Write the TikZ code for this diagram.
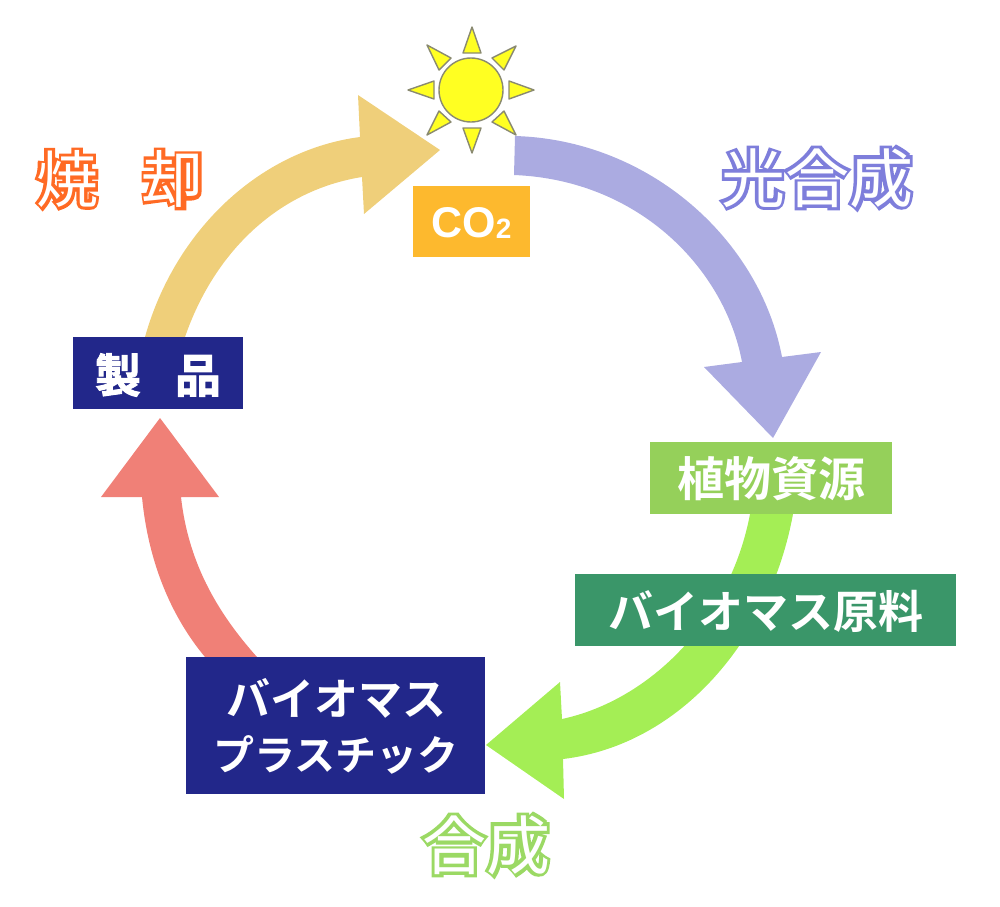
\documentclass[tikz,border=0pt]{standalone}
\usepackage{fontspec}
\setmainfont{Liberation Sans}
\newfontfamily\jpbold{Noto Sans CJK JP Bold}
\newfontfamily\jpheavy[FakeBold=2]{Noto Sans CJK JP Bold}
\newfontfamily\jpfat[FakeBold=7]{Noto Sans CJK JP Bold}
\newfontfamily\jpin{Noto Sans CJK JP}
\definecolor{arrP}{HTML}{ABABE1}
\definecolor{arrO}{HTML}{EFCF7A}
\definecolor{arrG}{HTML}{A4EE55}
\definecolor{arrR}{HTML}{F08077}
\definecolor{navy}{HTML}{22278A}
\definecolor{boxO}{HTML}{FDB92E}
\definecolor{boxG}{HTML}{95D05A}
\definecolor{boxT}{HTML}{3A9669}
\definecolor{txtO}{HTML}{FF6A24}
\definecolor{txtP}{HTML}{7E7EDB}
\definecolor{txtG}{HTML}{9BD964}
\definecolor{sunS}{HTML}{8A8A70}
\definecolor{sunF}{HTML}{FFFF22}
\tikzset{
  box/.style={inner sep=0pt,text=white,align=center,font=\jpbold\fontsize{44}{56}\selectfont},
  ray/.style={fill=sunF,draw=sunS,line width=1.4pt,line join=round},
  band/.style={draw=none},
  lblfat/.style={inner sep=0pt,font=\jpfat\fontsize{#1}{#1}\selectfont},
  lblin/.style={inner sep=0pt,text=white,font=\jpin\fontsize{#1}{#1}\selectfont},
}
\begin{document}
\begin{tikzpicture}[x=1pt,y=-1pt]
\useasboundingbox (0,0) rectangle (1000,906);
% arrows
\fill[arrP,band] (515,136) .. controls (650,140) and (760,240) .. (782,357) -- (821,352) -- (773,438) -- (704,367) -- (742,362) .. controls (725,270) and (640,180) .. (514,175) -- cycle;
\fill[arrO,band] (145,337) .. controls (175,230) and (260,150) .. (360,137) -- (358,95) -- (440,150) -- (364,214) -- (362,177) .. controls (280,190) and (215,250) .. (185,337) -- cycle;
\fill[arrG,band] (562,719) .. controls (650,700) and (730,620) .. (750,514) -- (793,514) .. controls (770,640) and (680,745) .. (563,759) -- (564,799) -- (486,745) -- (560,682) -- cycle;
\fill[arrR,band] (142,497) .. controls (148,560) and (170,615) .. (205,657) -- (257,657) .. controls (215,610) and (188,560) .. (181,497) -- (219,497) -- (160,418) -- (101,497) -- cycle;
% sun
\draw[ray] (471,90) circle (32);
\draw[ray] (472,27) -- (463,53) -- (481,53) -- cycle;
\draw[ray] (472,153) -- (463,128) -- (481,128) -- cycle;
\draw[ray] (408,90) -- (434,81) -- (434,99) -- cycle;
\draw[ray] (534,90) -- (509,81) -- (509,99) -- cycle;
\draw[ray] (516,46) -- (492,58) -- (504,70) -- cycle;
\draw[ray] (427,45) -- (451,58) -- (439,70) -- cycle;
\draw[ray] (516,135) -- (492,122) -- (504,111) -- cycle;
\draw[ray] (427,135) -- (451,122) -- (439,111) -- cycle;
% boxes
\fill[boxO] (413,186) rectangle (530,257);
\node[inner sep=0pt,text=white,font=\bfseries\fontsize{43}{43}\selectfont] (co2) at (471.5,223) {CO\raisebox{-1pt}{\fontsize{28}{28}\selectfont 2}};
\fill[navy] (73,337) rectangle (243,409);
\node[box,font=\jpheavy\fontsize{46}{56}\selectfont] (prod) at (158,375) {製\hspace{34pt}品};
\fill[boxG] (650,442) rectangle (892,514);
\node[box,font=\jpbold\fontsize{47}{56}\selectfont] (plant) at (771,479) {植物資源};
\fill[boxT] (575,574) rectangle (956,646);
\node[box,font=\jpbold\fontsize{45}{56}\selectfont] (raw) at (766,611) {バイオマス原料};
\fill[navy] (186,657) rectangle (485,794);
\node[box] (bp1) at (336,698) {バイオマス};
\node[box,font=\jpbold\fontsize{41}{56}\selectfont] (bp2) at (336,755) {プラスチック};
% hollow labels
\node[lblfat=64,text=txtP] (kg) at (817,178) {光合成};
\node[lblin=64] at (kg) {光合成};
\node[lblfat=64,text=txtG] (gs) at (486,845) {合成};
\node[lblin=64] at (gs) {合成};
\node[lblfat=62,text=txtO] (sk) at (120,179) {焼\hspace{44pt}却};
\node[lblin=62] at (sk) {焼\hspace{44pt}却};
\end{tikzpicture}
\end{document}
